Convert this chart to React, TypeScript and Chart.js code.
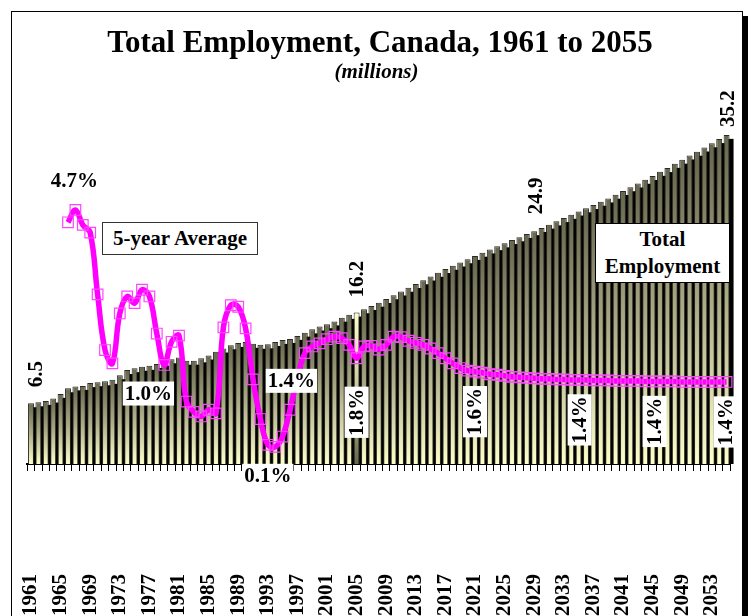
import React, { useEffect, useRef } from 'react';
import { Chart, registerables } from 'chart.js';
Chart.register(...registerables);

const FONT = '"Liberation Serif", "Times New Roman", serif';

// ---------- data ----------
const years: string[] = Array.from({ length: 95 }, (_, i) => String(1961 + i));

const yearTickLabels = [
  '1961', '1965', '1969', '1973', '1977', '1981', '1985', '1989', '1993', '1997', '2001', '2005',
  '2009', '2013', '2017', '2021', '2025', '2029', '2033', '2037', '2041', '2045', '2049', '2053',
];

// Total employment, millions (1961..2055)
const employment = [
  6.5, 6.6, 6.75, 7.0, 7.5, 8.1, 8.3, 8.35, 8.65, 8.75,
  8.85, 9.0, 9.5, 10.05, 10.25, 10.4, 10.5, 10.7, 10.95, 11.2,
  11.4, 11.05, 11.05, 11.3, 11.6, 12.0, 12.35, 12.7, 12.95, 13.05,
  12.85, 12.75, 12.8, 13.05, 13.27, 13.38, 13.7, 14.05, 14.4, 14.7,
  14.95, 15.25, 15.65, 15.95, 16.2, 16.55, 16.9, 17.25, 17.65, 18.05,
  18.45, 18.85, 19.25, 19.65, 20.05, 20.45, 20.85, 21.2, 21.55, 21.9,
  22.25, 22.6, 22.95, 23.3, 23.6, 23.95, 24.25, 24.6, 24.9, 25.25,
  25.6, 25.95, 26.3, 26.65, 27.0, 27.35, 27.7, 28.05, 28.4, 28.8,
  29.2, 29.6, 30.0, 30.4, 30.8, 31.25, 31.65, 32.1, 32.55, 33.0,
  33.4, 33.85, 34.3, 34.75, 35.2,
];

// 5-year average growth, % (starts 1966)
const fiveYearAvg: (number | null)[] = [
  null, null, null, null, null,
  4.46, 4.7, 4.41, 4.26, 3.06, 1.98, 1.72, 2.69, 3.02, 2.89,
  3.15, 3.02, 2.3, 1.69, 2.14, 2.26, 0.98, 0.78, 0.69, 0.82,
  0.75, 2.42, 2.85, 2.82, 2.4, 1.41, 0.64, 0.14, 0.1, 0.3,
  0.82, 1.44, 1.92, 2.05, 2.11, 2.19, 2.24, 2.21, 2.08, 1.82,
  2.05, 2.06, 1.99, 2.08, 2.24, 2.23, 2.16, 2.12, 2.08, 2.01,
  1.92, 1.82, 1.72, 1.63, 1.58, 1.56, 1.54, 1.51, 1.5, 1.48,
  1.46, 1.45, 1.44, 1.43, 1.42, 1.42, 1.41, 1.41, 1.4, 1.4,
  1.4, 1.39, 1.39, 1.39, 1.38, 1.38, 1.38, 1.38, 1.37, 1.37,
  1.37, 1.37, 1.37, 1.36, 1.36, 1.36, 1.36, 1.36, 1.36, 1.36,
];

const highlightIndex = 44; // 2005
const barLabelIdx = [0, 44, 68, 94];
const pctLabelIdx = [6, 21, 32, 36, 44, 60, 74, 84, 94];

// ---------- label styles ----------
const barLabelStyle: Record<number, { dx: number; gap: number }> = {
  0: { dx: 5, gap: 16 },
  44: { dx: 0, gap: 15 },
  68: { dx: 1, gap: 17 },
  94: { dx: 1, gap: 8 },
};
const pctLabelStyle: Record<number, { dx: number; dy: number; rot: boolean; bg: boolean }> = {
  6: { dx: -1, dy: -29, rot: false, bg: false },
  21: { dx: -38, dy: -8, rot: false, bg: true },
  32: { dx: 0, dy: 31, rot: false, bg: true },
  36: { dx: -6, dy: 3, rot: false, bg: true },
  44: { dx: 0, dy: 54, rot: true, bg: true },
  60: { dx: 0, dy: 40, rot: true, bg: true },
  74: { dx: 1, dy: 40, rot: true, bg: true },
  84: { dx: 2, dy: 40, rot: true, bg: true },
  94: { dx: -1, dy: 40, rot: true, bg: true },
};

// draws a hard black drop shadow behind every bar (3-D look)
const shadowPlugin = {
  id: 'barShadow',
  beforeDatasetDraw(chart: any, args: any) {
    if (args.meta.type !== 'bar') return;
    const c = chart.ctx;
    const a = chart.chartArea;
    c.save();
    c.beginPath();
    c.rect(a.left, a.top - 20, a.right - a.left + 12, a.bottom - a.top + 20);
    c.clip();
    c.fillStyle = '#000';
    args.meta.data.forEach((el: any) => {
      const p = el.getProps(['x', 'y', 'base', 'width'], true);
      c.fillRect(p.x - p.width / 2 + 4, p.y + 4, p.width, p.base - p.y);
    });
    c.restore();
  },
};

const labelPlugin = {
  id: 'valueLabels',
  afterDatasetsDraw(chart: any) {
    const ctx = chart.ctx;
    const xs = chart.scales.x;
    const ys = chart.scales.y;
    const y1 = chart.scales.y1;
    ctx.save();
    ctx.font = `bold 21px ${FONT}`;
    ctx.fillStyle = '#000';
    barLabelIdx.forEach((i) => {
      const st = barLabelStyle[i];
      const px = xs.getPixelForValue(i) + st.dx;
      const py = ys.getPixelForValue(employment[i]) - st.gap;
      ctx.save();
      ctx.translate(px, py);
      ctx.rotate(-Math.PI / 2);
      ctx.textAlign = 'left';
      ctx.textBaseline = 'middle';
      ctx.fillText(employment[i].toFixed(1), 0, 1);
      ctx.restore();
    });
    pctLabelIdx.forEach((i) => {
      const st = pctLabelStyle[i];
      const v = fiveYearAvg[i] as number;
      const text = v.toFixed(1) + '%';
      const cx = xs.getPixelForValue(i) + st.dx;
      const cy = y1.getPixelForValue(v) + st.dy;
      const w = ctx.measureText(text).width;
      ctx.save();
      ctx.translate(cx, cy);
      if (st.rot) ctx.rotate(-Math.PI / 2);
      if (st.bg) {
        ctx.fillStyle = '#fff';
        ctx.fillRect(-(w + 4) / 2, -12, w + 4, 24);
      }
      ctx.fillStyle = '#000';
      ctx.textAlign = 'center';
      ctx.textBaseline = 'middle';
      ctx.fillText(text, 0, 1);
      ctx.restore();
    });
    ctx.restore();
  },
};

function barGradient(c: any) {
  const chart = c.chart;
  if (!chart.chartArea || c.raw == null) return '#999977';
  const ys = chart.scales.y;
  const top = ys.getPixelForValue(c.raw);
  const base = ys.getPixelForValue(0);
  const g = chart.ctx.createLinearGradient(0, top, 0, base);
  if (c.dataIndex === highlightIndex) {
    g.addColorStop(0, '#ffffcc');
    g.addColorStop(0.5, '#c9c8a0');
    g.addColorStop(1, '#66664f');
  } else {
    g.addColorStop(0, '#66664f');
    g.addColorStop(0.5, '#adac88');
    g.addColorStop(1, '#ffffcc');
  }
  return g;
}

export default function App() {
  const ref = useRef<HTMLCanvasElement>(null);
  useEffect(() => {
    const chart = new Chart(ref.current as HTMLCanvasElement, {
      type: 'bar',
      data: {
        labels: years,
        datasets: [
          {
            type: 'line',
            label: '5-year Average',
            data: fiveYearAvg,
            yAxisID: 'y1',
            order: 0,
            borderColor: '#ff00ff',
            borderWidth: 5.5,
            tension: 0.4,
            pointStyle: 'rect',
            pointRadius: 7.5,
            pointBorderColor: '#ff44ff',
            pointBorderWidth: 1.2,
            pointBackgroundColor: 'rgba(0,0,0,0)',
            clip: false,
          } as any,
          {
            type: 'bar',
            label: 'Total Employment',
            data: employment,
            yAxisID: 'y',
            order: 1,
            backgroundColor: barGradient,
            borderColor: '#2a2a22',
            borderWidth: 1,
            barPercentage: 0.8,
            categoryPercentage: 1,
          } as any,
        ],
      },
      options: {
        responsive: false,
        animation: false,
        events: [],
        layout: { padding: { left: 27.3, right: 19.7, top: 90, bottom: 0 } },
        plugins: { legend: { display: false }, tooltip: { enabled: false }, title: { display: false } },
        scales: {
          x: {
            offset: true,
            grid: { display: true, drawOnChartArea: false, drawTicks: true, tickLength: 7, color: '#000', offset: true },
            border: { display: true, color: '#000', width: 2 },
            ticks: {
              autoSkip: false,
              minRotation: 90,
              maxRotation: 90,
              padding: 103,
              color: '#000',
              font: { family: FONT, weight: 'bold', size: 21 },
              callback: (_v: any, idx: number) => (yearTickLabels.includes(years[idx]) ? years[idx] : ''),
            },
            afterFit: (scale: any) => {
              scale.height = 152;
              scale.paddingLeft = 0;
              scale.paddingRight = 0;
            },
          },
          y: { display: false, min: 0, max: 40 },
          y1: { display: false, min: -0.233, max: 7.029, position: 'right' },
        },
      },
      plugins: [shadowPlugin, labelPlugin],
    } as any);
    return () => chart.destroy();
  }, []);

  return (
    <div style={{ position: 'fixed', left: 0, top: 0, width: 750, height: 616, overflow: 'hidden', background: '#fff' }}>
      <div style={{ position: 'absolute', left: 11, top: 11, width: 730, height: 700, border: '1px solid #000', boxShadow: '5px 5px 0 #000', background: '#fff' }} />
      <canvas ref={ref} width={750} height={616} style={{ position: 'absolute', left: 0, top: 0, width: 750, height: 616 }} />
      <div style={{ position: 'absolute', left: 0, top: 26, width: 760, textAlign: 'center', font: `bold 31px/31px ${FONT}`, color: '#000' }}>
        Total Employment, Canada, 1961 to 2055
      </div>
      <div style={{ position: 'absolute', left: 0, top: 61, width: 753, textAlign: 'center', font: `italic bold 21px/21px ${FONT}`, color: '#000' }}>
        (millions)
      </div>
      <div style={{ position: 'absolute', left: 102, top: 222, width: 154, height: 31, border: '1px solid #333', background: '#fff', display: 'flex', alignItems: 'center', justifyContent: 'center', font: `bold 21px/21px ${FONT}`, color: '#000' }}>
        5-year Average
      </div>
      <div style={{ position: 'absolute', left: 595, top: 223, width: 133, height: 58, border: '1px solid #000', background: '#fff', display: 'flex', flexDirection: 'column', alignItems: 'center', justifyContent: 'center', font: `bold 21px/27px ${FONT}`, color: '#000' }}>
        <div>Total</div>
        <div>Employment</div>
      </div>
    </div>
  );
}
